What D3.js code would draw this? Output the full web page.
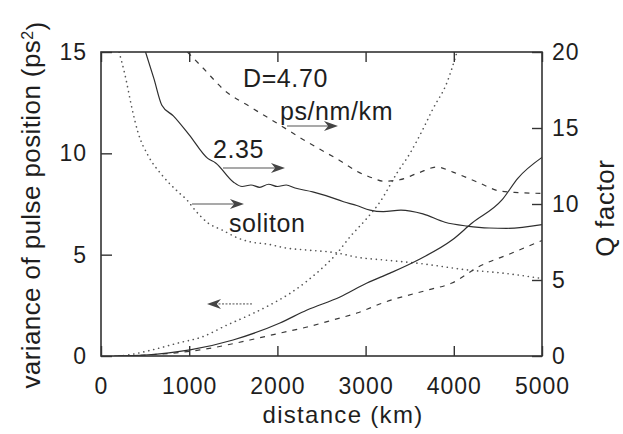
<!DOCTYPE html>
<html>
<head>
<meta charset="utf-8">
<script src="https://cdn.jsdelivr.net/npm/d3@7"></script>
<style>
  html, body { margin: 0; padding: 0; background: #fff; }
  svg { display: block; }
  text { font-family: "Liberation Sans", Arial, Helvetica, sans-serif; fill: #1e1e1e; }
</style>
</head>
<body>
<svg id="chart" width="623" height="434"></svg>
<script>
// ---- data (distance in km) ----
const xTicks = [0, 1000, 2000, 3000, 4000, 5000];
const yLeftTicks = [0, 5, 10, 15];
const yRightTicks = [0, 5, 10, 15, 20];

// Q factor (right axis)
const qD470 = [[980,20],[1156,18.95],[1406,17.45],[1689,16.4],[2000,15.3],[2290,14.25],[2483,13.6],[2710,12.85],[2902,12.15],[3084,11.7],[3200,11.5],[3390,11.6],[3600,12.05],[3810,12.43],[3990,12.1],[4263,11.45],[4524,10.85],[4730,10.75],[5000,10.7]];
const q235 = [[505,20],[600,18.25],[690,16.5],[820,15.8],[1000,14.55],[1210,13.0],[1300,12.7],[1500,11.45],[1600,11.15],[1700,11.25],[1800,11.1],[1900,11.3],[2000,11.15],[2100,11.25],[2200,11.05],[2400,10.8],[2550,10.55],[2750,10.15],[2900,9.9],[3050,9.6],[3200,9.5],[3400,9.6],[3650,9.35],[3900,8.8],[4150,8.55],[4400,8.42],[4600,8.4],[5000,8.65]];
const qSoliton = [[205,20],[272,18.5],[351,16.3],[420,14.7],[533,13.2],[692,11.9],[873,10.8],[975,10.26],[1066,9.6],[1213,8.75],[1372,8.29],[1553,7.76],[1700,7.5],[1900,7.35],[2100,7.1],[2336,6.97],[2676,6.78],[2902,6.5],[3243,6.3],[3594,6.1],[4161,5.66],[4546,5.46],[5000,5.1]];

// variance of pulse position (left axis)
const varD470 = [[200,0],[700,0.1],[1122,0.3],[1689,0.79],[2029,1.13],[2336,1.43],[2630,1.78],[2902,2.12],[3220,2.66],[3708,3.26],[3980,3.6],[4275,4.39],[4660,5.08],[5000,5.7]];
const var235 = [[150,0],[500,0.05],[1009,0.3],[1497,0.79],[2029,1.63],[2336,2.27],[2710,2.91],[3016,3.6],[3277,4.09],[3594,4.74],[3980,5.72],[4207,6.56],[4546,7.7],[4728,8.78],[5000,9.8]];
const varSoliton = [[200,0],[306,0.05],[578,0.3],[873,0.64],[1145,0.94],[1440,1.55],[1633,1.92],[1723,2.1],[1950,2.6],[2143,3.09],[2336,3.7],[2483,4.24],[2676,5.07],[2823,5.88],[3016,6.8],[3163,7.6],[3356,9.03],[3503,10.0],[3651,11.2],[3764,12.2],[3923,13.5],[4036,15]];

// annotations: text labels [km, value on right axis]
const labels = [
  {text: "D=4.70", at: [1610, 17.7]},
  {text: "ps/nm/km", at: [2029, 15.53]},
  {text: "2.35", at: [1270, 13.03]},
  {text: "soliton", at: [1451, 8.16]}
];
// arrows: from -> to, axis 'R' (Q) or 'L' (variance)
const arrows = [
  {from: [2109, 15.13], to: [2687, 15.13], axis: "R"},
  {from: [1383, 12.37], to: [2086, 12.37], axis: "R"},
  {from: [1032, 10.0], to: [1621, 10.0], axis: "R"},
  {from: [1712, 2.57], to: [1202, 2.57], axis: "L", light: true}
];

// ---- layout ----
const L = 101, R = 542, T = 52, B = 356;
const svg = d3.select("#chart");
const x = d3.scaleLinear().domain([0, 5000]).range([L, R]);
const yL = d3.scaleLinear().domain([0, 15]).range([B, T]);
const yR = d3.scaleLinear().domain([0, 20]).range([B, T]);

svg.append("defs").append("clipPath").attr("id", "clip")
  .append("rect").attr("x", L).attr("y", T).attr("width", R - L).attr("height", B - T);

const plot = svg.append("g").attr("clip-path", "url(#clip)");

const styles = {
  solid:  {stroke: "#2e2e2e", width: 1.2, dash: null, cap: "butt"},
  dashed: {stroke: "#3a3a3a", width: 1.2, dash: "5,6", cap: "butt"},
  dotted: {stroke: "#555", width: 1.6, dash: "0.1,5", cap: "round"}
};

function drawLine(data, yScale, st) {
  const line = d3.line().x(d => x(d[0])).y(d => yScale(d[1])).curve(d3.curveMonotoneX);
  plot.append("path").datum(data)
    .attr("d", line)
    .attr("fill", "none")
    .attr("stroke", st.stroke)
    .attr("stroke-width", st.width)
    .attr("stroke-dasharray", st.dash)
    .attr("stroke-linecap", st.cap);
}

drawLine(qD470, yR, styles.dashed);
drawLine(q235, yR, styles.solid);
drawLine(qSoliton, yR, styles.dotted);
drawLine(varD470, yL, styles.dashed);
drawLine(var235, yL, styles.solid);
drawLine(varSoliton, yL, styles.dotted);

// ---- axes ----
const fontTick = "23px";
function styleAxis(g, showText) {
  g.select(".domain").remove();
  g.selectAll(".tick line").attr("stroke", "#333").attr("stroke-width", 1.4);
  g.selectAll(".tick text")
    .style("font-size", fontTick)
    .style("letter-spacing", "1px")
    .attr("fill", "#1e1e1e");
  if (!showText) g.selectAll(".tick text").remove();
}

svg.append("g").attr("transform", `translate(0,${B})`)
  .call(d3.axisBottom(x).tickValues(xTicks).tickSize(-10).tickPadding(22).tickFormat(d3.format("d")))
  .call(g => styleAxis(g, true));
svg.append("g").attr("transform", `translate(0,${T})`)
  .call(d3.axisTop(x).tickValues(xTicks).tickSize(-10))
  .call(g => styleAxis(g, false));
svg.append("g").attr("transform", `translate(${L},0)`)
  .call(d3.axisLeft(yL).tickValues(yLeftTicks).tickSize(-11).tickPadding(14))
  .call(g => styleAxis(g, true));
svg.append("g").attr("transform", `translate(${R},0)`)
  .call(d3.axisRight(yR).tickValues(yRightTicks).tickSize(-10).tickPadding(10))
  .call(g => styleAxis(g, true));

svg.append("rect").attr("x", L).attr("y", T).attr("width", R - L).attr("height", B - T)
  .attr("fill", "none").attr("stroke", "#333").attr("stroke-width", 1.6);

// ---- axis titles ----
svg.append("text").attr("x", 343).attr("y", 423).attr("text-anchor", "middle")
  .style("font-size", "24px").style("letter-spacing", "1.3px").text("distance (km)");

const lt = svg.append("text").attr("text-anchor", "middle")
  .attr("transform", "translate(40,205) rotate(-90)")
  .style("font-size", "26px").style("letter-spacing", "0.4px");
lt.append("tspan").text("variance of pulse position (ps");
lt.append("tspan").attr("dy", "-0.45em").style("font-size", "16px").text("2");
lt.append("tspan").attr("dy", "0.45em").text(")");

svg.append("text").attr("text-anchor", "middle")
  .attr("transform", "translate(614,208) rotate(-90)")
  .style("font-size", "26px").style("letter-spacing", "0.6px").text("Q factor");

// ---- annotations ----
labels.forEach(l => {
  svg.append("text").attr("x", x(l.at[0])).attr("y", yR(l.at[1]))
    .style("font-size", "25px").style("letter-spacing", "0.6px").text(l.text);
});

arrows.forEach(a => {
  const ys = a.axis === "R" ? yR : yL;
  const x1 = x(a.from[0]), y1 = ys(a.from[1]);
  const x2 = x(a.to[0]), y2 = ys(a.to[1]);
  const dir = Math.sign(x2 - x1);
  const headLen = 14;
  svg.append("line").attr("x1", x1).attr("y1", y1).attr("x2", x2 - dir * headLen * 0.5).attr("y2", y2)
    .attr("stroke", a.light ? "#9a9a9a" : "#555").attr("stroke-width", a.light ? 1.6 : 1.2)
    .attr("stroke-dasharray", a.light ? "2,1.5" : null);
  const p = d3.path();
  p.moveTo(x2, y2);
  p.lineTo(x2 - dir * headLen, y2 - 5);
  p.lineTo(x2 - dir * headLen * 0.7, y2);
  p.lineTo(x2 - dir * headLen, y2 + 5);
  p.closePath();
  svg.append("path").attr("d", p.toString()).attr("fill", "#444");
});
</script>
</body>
</html>
